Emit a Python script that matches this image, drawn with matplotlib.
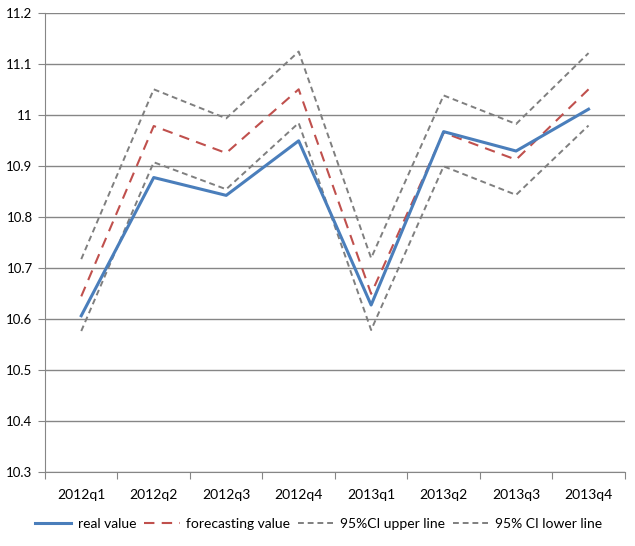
import numpy as np
import matplotlib.pyplot as plt

plt.rcParams["font.family"] = ["Lato", "DejaVu Sans"]

# 数据
quarters = ["2012q1", "2012q2", "2012q3", "2012q4",
            "2013q1", "2013q2", "2013q3", "2013q4"]
real_value = [10.607, 10.878, 10.843, 10.950, 10.628, 10.968, 10.930, 11.012]
forecast_value = [10.645, 10.979, 10.926, 11.051, 10.650, 10.966, 10.913, 11.051]
ci_upper = [10.718, 11.051, 10.994, 11.125, 10.720, 11.039, 10.983, 11.122]
ci_lower = [10.577, 10.908, 10.855, 10.985, 10.579, 10.900, 10.844, 10.980]

fig = plt.figure(figsize=(6.35, 5.46), dpi=100)
ax = fig.add_axes([0.0709, 0.135, 0.913, 0.8406])

x = np.arange(len(quarters))
ax.plot(x, real_value, color="#4A7EBB", lw=2.2, label="real value", zorder=5)
ax.plot(x, forecast_value, color="#C0504D", lw=1.5, dashes=(5, 3.5),
        label="forecasting value", zorder=4)
ax.plot(x, ci_upper, color="#7F7F7F", lw=1.4, dashes=(3, 2),
        label="95%CI upper line", zorder=3)
ax.plot(x, ci_lower, color="#7F7F7F", lw=1.4, dashes=(3, 2),
        label="95% CI lower line", zorder=3)

# 坐标轴
ax.set_xlim(-0.5, len(quarters) - 0.5)
ax.set_ylim(10.3, 11.2)
ax.set_yticks(np.arange(10.3, 11.21, 0.1))
ax.set_yticklabels(["10.3", "10.4", "10.5", "10.6", "10.7", "10.8",
                    "10.9", "11", "11.1", "11.2"])
ax.yaxis.grid(True, color="#868686", lw=1)
ax.set_axisbelow(True)

ax.set_xticks(np.arange(-0.5, len(quarters), 1))
ax.set_xticklabels([])
ax.set_xticks(x, minor=True)
ax.set_xticklabels(quarters, minor=True)
ax.tick_params(axis="x", which="minor", length=0, pad=12)
ax.tick_params(axis="x", which="major", length=5, color="#868686")
ax.tick_params(axis="y", length=5, color="#868686", pad=4)
ax.tick_params(labelsize=9.5, labelcolor="black")

for s in ["top", "right"]:
    ax.spines[s].set_visible(False)
for s in ["left", "bottom"]:
    ax.spines[s].set_color("#868686")

fig.legend(loc="center", bbox_to_anchor=(0.502, 0.04), ncol=4, frameon=False,
           fontsize=10, handlelength=2.6, handletextpad=0.45, columnspacing=0.55)

fig.savefig("out.png", dpi=100)
